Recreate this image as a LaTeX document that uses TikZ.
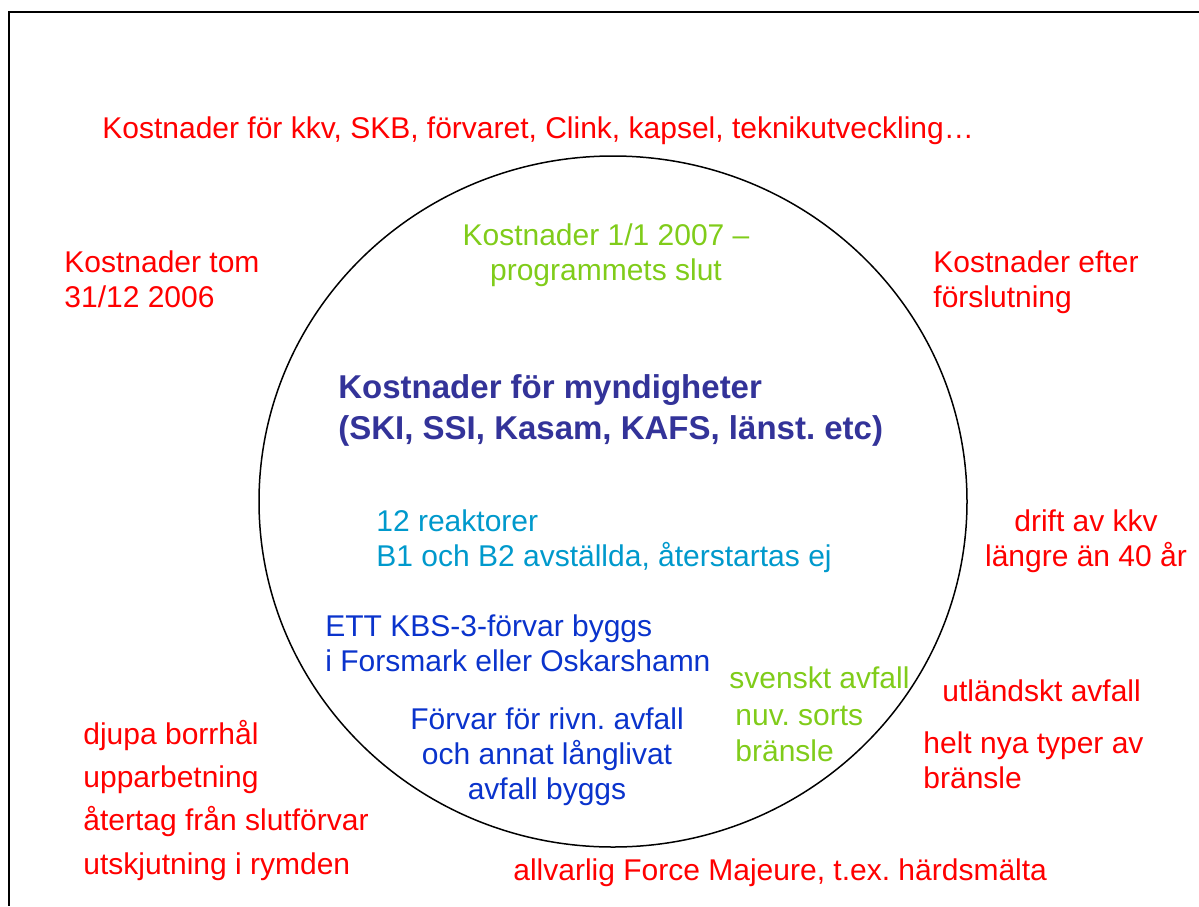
\documentclass[tikz,border=0pt]{standalone}
\usepackage{fontspec}
\setmainfont{Liberation Sans}
\usepackage{tikz}
\tikzset{>=stealth}
\frenchspacing
\definecolor{costred}{RGB}{255,0,0}
\definecolor{leafgreen}{RGB}{128,204,26}
\definecolor{skyblue}{RGB}{0,153,204}
\definecolor{deepblue}{RGB}{10,51,204}
\definecolor{navyblue}{RGB}{51,51,153}

\begin{document}
\begin{tikzpicture}[x=0.5pt, y=-0.5pt,
    txt/.style={inner sep=0pt, font=\fontsize{15}{17.5}\selectfont, align=left},
    outer/.style={txt, text=costred},
    program/.style={txt, text=leafgreen},
    reactor/.style={txt, text=skyblue},
    repo/.style={txt, text=deepblue},
    agency/.style={inner sep=0pt, font=\fontsize{16.5}{20.5}\selectfont\bfseries, align=left, text=navyblue}]
    \useasboundingbox (0,0) rectangle (1199,906);
    \draw [line width=1pt] (1199,12) -- (9,12) -- (9,906);
    \draw [line width=0.75pt] (613,501.5) ellipse [x radius=177pt, y radius=172.75pt];

    \node [outer, anchor=base west] (allcosts) at (102,138) {Kostnader för kkv, SKB, förvaret, Clink, kapsel, teknikutveckling…};
    \node [program, align=center, anchor=north] (period) at (606,221) {\strut Kostnader 1/1 2007 –\\programmets slut};
    \node [outer, anchor=north west] (before) at (64,248) {\strut Kostnader tom\\31/12 2006};
    \node [outer, anchor=north west] (after) at (933,248) {\strut Kostnader efter\\förslutning};
    \node [agency, anchor=north west] (agencies) at (338,369) {\strut Kostnader för myndigheter\\(SKI, SSI, Kasam, KAFS, länst. etc)};
    \node [reactor, anchor=north west] (reactors) at (376,507) {\strut 12 reaktorer\\B1 och B2 avställda, återstartas ej};
    \node [outer, align=center, anchor=north] (longrun) at (1086,507) {\strut drift av kkv\\längre än 40 år};
    \node [repo, anchor=north west] (kbs) at (325,612) {\strut ETT KBS-3-förvar byggs\\i Forsmark eller Oskarshamn};
    \node [repo, align=center, anchor=north] (demolition) at (547,705) {\strut Förvar för rivn. avfall\\och annat långlivat\\avfall byggs};
    \node [program, anchor=base west] (swedish) at (729,688) {svenskt avfall};
    \node [program, anchor=base west] (current) at (735,725) {nuv. sorts};
    \node [program, anchor=base west] (fuel) at (735,761) {bränsle};
    \node [outer, anchor=base west] (foreign) at (942,701) {utländskt avfall};
    \node [outer, anchor=north west] (newfuel) at (923,729) {\strut helt nya typer av\\bränsle};
    \node [outer, anchor=base west] (borehole) at (83,744) {djupa borrhål};
    \node [outer, anchor=base west] (reprocess) at (83,787) {upparbetning};
    \node [outer, anchor=base west] (retrieval) at (83,830) {återtag från slutförvar};
    \node [outer, anchor=base west] (space) at (83,874) {utskjutning i rymden};
    \node [outer, anchor=base west] (meltdown) at (513,880) {allvarlig Force Majeure, t.ex. härdsmälta};
\end{tikzpicture}
\end{document}
